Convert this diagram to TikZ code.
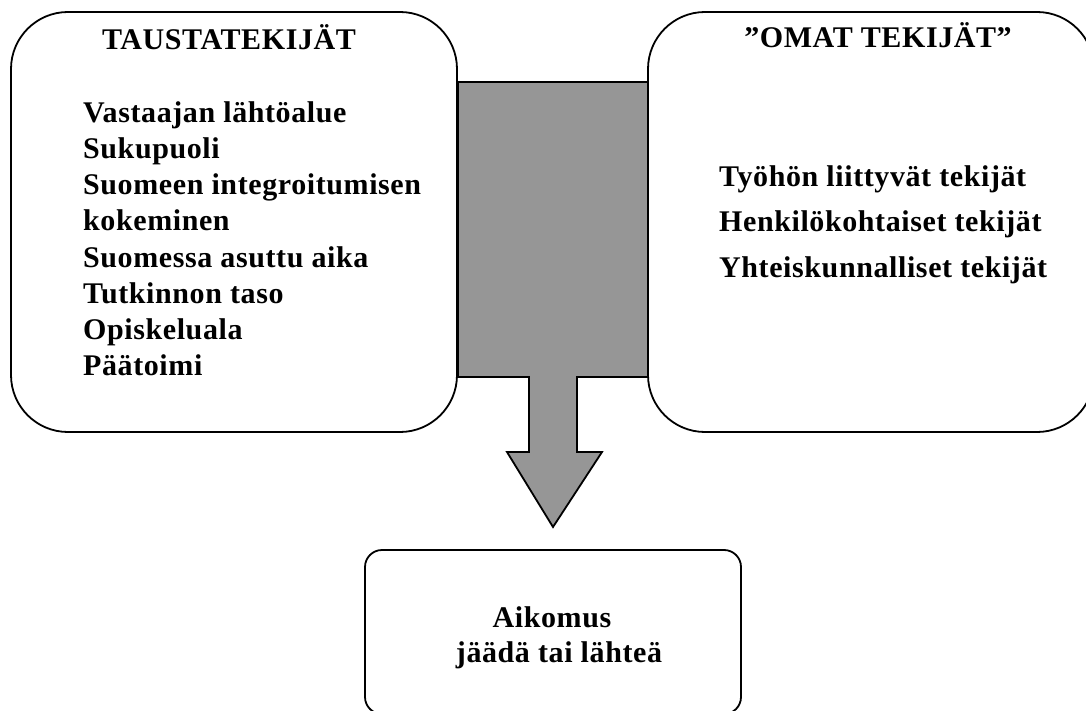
\documentclass[tikz,border=0pt]{standalone}
\usepackage{fontspec}
\setmainfont[LetterSpace=2.0]{Liberation Serif}
\definecolor{arrowgray}{RGB}{150,150,150}
\begin{document}
\begin{tikzpicture}[x=1pt,y=-1pt,
  panel/.style={draw=black, line width=1.8pt, rounded corners=57pt,
    minimum width=446pt, minimum height=420pt, inner sep=0pt},
  goal/.style={draw=black, line width=1.8pt, rounded corners=17pt,
    minimum width=376pt, minimum height=164pt, inner sep=0pt},
  txt/.style={font=\fontsize{30}{36}\selectfont\bfseries, inner sep=0pt, anchor=base west},
  ctxt/.style={font=\fontsize{30}{36}\selectfont\bfseries, inner sep=0pt, anchor=base},
  flow/.style={draw=black, line width=1.8pt, fill=arrowgray, line join=miter}]
\useasboundingbox (0,0) rectangle (1086,711);
\clip (0,0) rectangle (1086,711);

% boxes
\node[panel] (left) at (234,222) {};
\node[panel] (right) at (871,222) {};
\node[goal] (bottom) at (553,632) {};

% big arrow
\coordinate (a1) at (458,82);
\coordinate (a2) at (648,82);
\coordinate (a3) at (648,377);
\coordinate (tip) at (553,527);
\draw[flow] (a1) -- (a2) -- (a3) -- (577,377) -- (577,452) -- (602,452)
  -- (tip) -- (507,452) -- (529,452) -- (529,377) -- (458,377) -- cycle;

% left texts
\node[ctxt] (lt) at (229,50) {TAUSTATEKIJÄT};
\node[txt] (l1) at (83,123) {Vastaajan lähtöalue};
\node[txt] (l2) at (83,159) {Sukupuoli};
\node[txt] (l3) at (83,195) {Suomeen integroitumisen};
\node[txt] (l4) at (83,231) {kokeminen};
\node[txt] (l5) at (83,267) {Suomessa asuttu aika};
\node[txt] (l6) at (83,303) {Tutkinnon taso};
\node[txt] (l7) at (83,339) {Opiskeluala};
\node[txt] (l8) at (83,375) {Päätoimi};

% right texts
\node[ctxt] (rt) at (878,48) {”OMAT TEKIJÄT”};
\node[txt] (r1) at (719,187) {Työhön liittyvät tekijät};
\node[txt] (r2) at (719,232) {Henkilökohtaiset tekijät};
\node[txt] (r3) at (719,277) {Yhteiskunnalliset tekijät};

% bottom texts
\node[ctxt] (b1) at (552,627) {Aikomus};
\node[ctxt] (b2) at (559,662) {jäädä tai lähteä};
\end{tikzpicture}
\end{document}
